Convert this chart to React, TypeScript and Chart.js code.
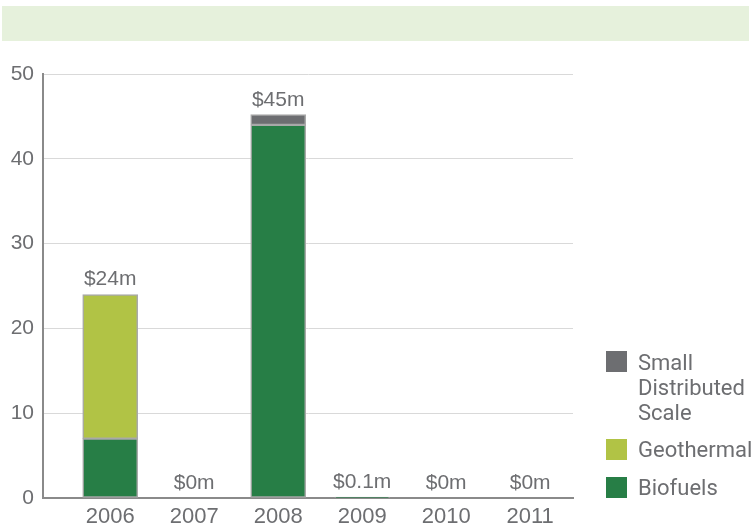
import React, { useEffect, useRef } from 'react';
import { Chart, registerables } from 'chart.js';

Chart.register(...registerables);

const years = ['2006', '2007', '2008', '2009', '2010', '2011'];
const biofuels = [7, 0, 44, 0.1, 0, 0];
const geothermal = [17, 0, 0, 0, 0, 0];
const smallDistributed = [0, 0, 1.2, 0, 0, 0];
const totalLabels = ['$24m', '$0m', '$45m', '$0.1m', '$0m', '$0m'];
const seriesNames = ['Biofuels', 'Geothermal', 'Small Distributed Scale'];
const legendLines = [['Small', 'Distributed', 'Scale'], ['Geothermal'], ['Biofuels']];

const COLORS = {
  biofuels: '#277e46',
  geothermal: '#b1c345',
  small: '#6d6e71',
  text: '#6d6e71',
  border: '#a9a9a9',
  grid: '#d9d9d9',
  axis: '#8a8a8a',
};

const SANS = '"Liberation Sans", Arial, sans-serif';

const totalsPlugin = {
  id: 'totals',
  afterDatasetsDraw(chart: any) {
    const { ctx } = chart;
    const xs = chart.scales.x;
    const ys = chart.scales.y;
    ctx.save();
    ctx.font = `21px ${SANS}`;
    ctx.fillStyle = COLORS.text;
    ctx.textAlign = 'center';
    ctx.textBaseline = 'alphabetic';
    years.forEach((_, i) => {
      const total = biofuels[i] + geothermal[i] + smallDistributed[i];
      ctx.fillText(totalLabels[i], xs.getPixelForValue(i), ys.getPixelForValue(total) - 9);
    });
    ctx.restore();
  },
};

export default function App() {
  const canvasRef = useRef<HTMLCanvasElement | null>(null);

  useEffect(() => {
    if (!canvasRef.current) return;
    const mk = (arr: number[]) => arr.map((v, i) => ({ x: i, y: v }));
    const common = {
      borderColor: COLORS.border,
      borderWidth: 1.5,
      borderSkipped: false,
      barThickness: 55,
    };
    const chart = new Chart(canvasRef.current, {
      type: 'bar',
      data: {
        datasets: [
          { label: seriesNames[0], data: mk(biofuels), backgroundColor: COLORS.biofuels, ...common },
          { label: seriesNames[1], data: mk(geothermal), backgroundColor: COLORS.geothermal, ...common },
          { label: seriesNames[2], data: mk(smallDistributed), backgroundColor: COLORS.small, ...common },
        ],
      } as any,
      options: {
        animation: false,
        responsive: true,
        maintainAspectRatio: false,
        layout: { padding: { left: 0, right: 178, top: 74, bottom: 0 } },
        plugins: {
          legend: { display: false },
          tooltip: { enabled: false },
        },
        scales: {
          x: {
            type: 'linear',
            min: -0.8,
            max: 5.51,
            offset: false,
            stacked: true,
            grid: { display: false, drawTicks: false, offset: false },
            border: { display: true, color: COLORS.axis, width: 2 },
            ticks: {
              color: COLORS.text,
              font: { family: SANS, size: 22 },
              padding: 6,
              callback: (v: any) => years[v] ?? '',
            },
            afterBuildTicks: (s: any) => {
              s.ticks = years.map((_, i) => ({ value: i }));
            },
            afterFit: (s: any) => {
              s.height = 29;
            },
          },
          y: {
            min: 0,
            max: 50,
            stacked: true,
            grid: { color: COLORS.grid, lineWidth: 1, drawTicks: false },
            border: { display: true, color: COLORS.axis, width: 2 },
            ticks: {
              stepSize: 10,
              color: COLORS.text,
              font: { family: SANS, size: 21 },
              padding: 9,
            },
            afterFit: (s: any) => {
              s.width = 43;
            },
          },
        },
      } as any,
      plugins: [totalsPlugin],
    });
    return () => chart.destroy();
  }, []);

  const legendColors = [COLORS.small, COLORS.geothermal, COLORS.biofuels];
  const boxTops = [351, 439, 477];
  const textTops = [350, 437, 475];

  return (
    <div style={{ position: 'absolute', left: 0, top: 0, width: 751, height: 527, background: '#fff', overflow: 'hidden' }}>
      <div style={{ position: 'absolute', left: 2, top: 6, width: 747, height: 35, background: '#e6f1dc' }} />
      <div style={{ position: 'absolute', left: 0, top: 0, width: 751, height: 527 }}>
        <canvas ref={canvasRef} />
      </div>
      {legendLines.map((lines, k) => (
        <React.Fragment key={k}>
          <div style={{ position: 'absolute', left: 606, top: boxTops[k], width: 21, height: 21, background: legendColors[k] }} />
          <div
            style={{
              position: 'absolute',
              left: 638,
              top: textTops[k],
              font: '22px Roboto, sans-serif',
              lineHeight: '25px',
              color: COLORS.text,
              whiteSpace: 'nowrap',
            }}
          >
            {lines.map((l, j) => (
              <div key={j}>{l}</div>
            ))}
          </div>
        </React.Fragment>
      ))}
    </div>
  );
}
